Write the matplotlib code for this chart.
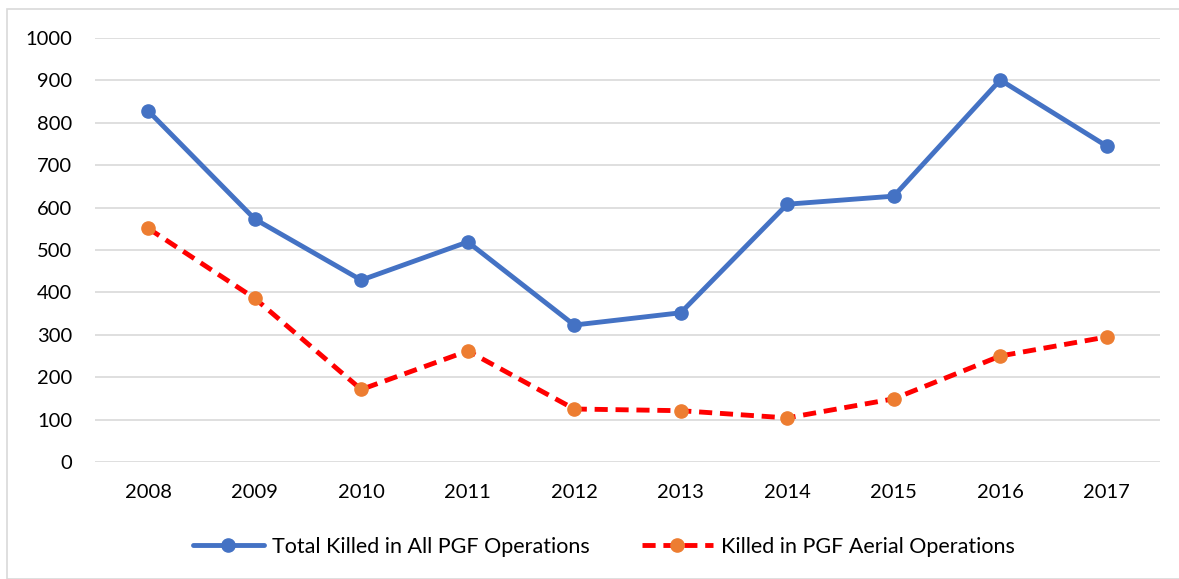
import matplotlib.pyplot as plt
from matplotlib.patches import Rectangle

years = ['2008', '2009', '2010', '2011', '2012', '2013', '2014', '2015', '2016', '2017']
total_killed = [828, 573, 429, 519, 323, 352, 608, 627, 901, 745]
aerial_killed = [551, 386, 171, 262, 125, 121, 104, 149, 250, 295]

plt.rcParams['font.family'] = ['Lato', 'DejaVu Sans']

fig = plt.figure(figsize=(11.79, 5.79), dpi=100)
ax = fig.add_axes([95 / 1179, 1 - 462 / 579, (1160 - 95) / 1179, (462 - 38) / 579])

# outer chart border
fig.patches.append(Rectangle((7 / 1179, 0), 1.0, 1 - 9 / 579, transform=fig.transFigure,
                             fill=False, edgecolor='#d9d9d9', linewidth=1.2))

x = range(len(years))
ax.plot(x, total_killed, color='#4472c4', linewidth=3.5, marker='o', markersize=9.5,
        label='Total Killed in All PGF Operations', solid_capstyle='round')
ax.plot(x, aerial_killed, color='#ff0000', linewidth=3.5, linestyle=(0, (2.7, 1.6)),
        marker='o', markersize=9.5, markerfacecolor='#ed7d31', markeredgecolor='#ed7d31',
        label='Killed in PGF Aerial Operations', dash_capstyle='butt')

ax.set_xlim(-0.5, len(years) - 0.5)
ax.set_ylim(0, 1000)
ax.set_yticks(range(0, 1001, 100))
ax.set_xticks(list(x))
ax.set_xticklabels(years)
ax.grid(axis='y', color='#d9d9d9', linewidth=1.2)
ax.set_axisbelow(True)
for s in ax.spines.values():
    s.set_visible(False)
ax.tick_params(axis='both', length=0, labelsize=14.5, colors='black')
ax.tick_params(axis='y', pad=16.5)
ax.tick_params(axis='x', pad=16)

ax.legend(loc='center', bbox_to_anchor=(0.478, -0.2), ncol=2, frameon=False,
          fontsize=15.5, handlelength=3.3, columnspacing=2.4, handletextpad=0.4)

fig.savefig('out.png', dpi=100)
